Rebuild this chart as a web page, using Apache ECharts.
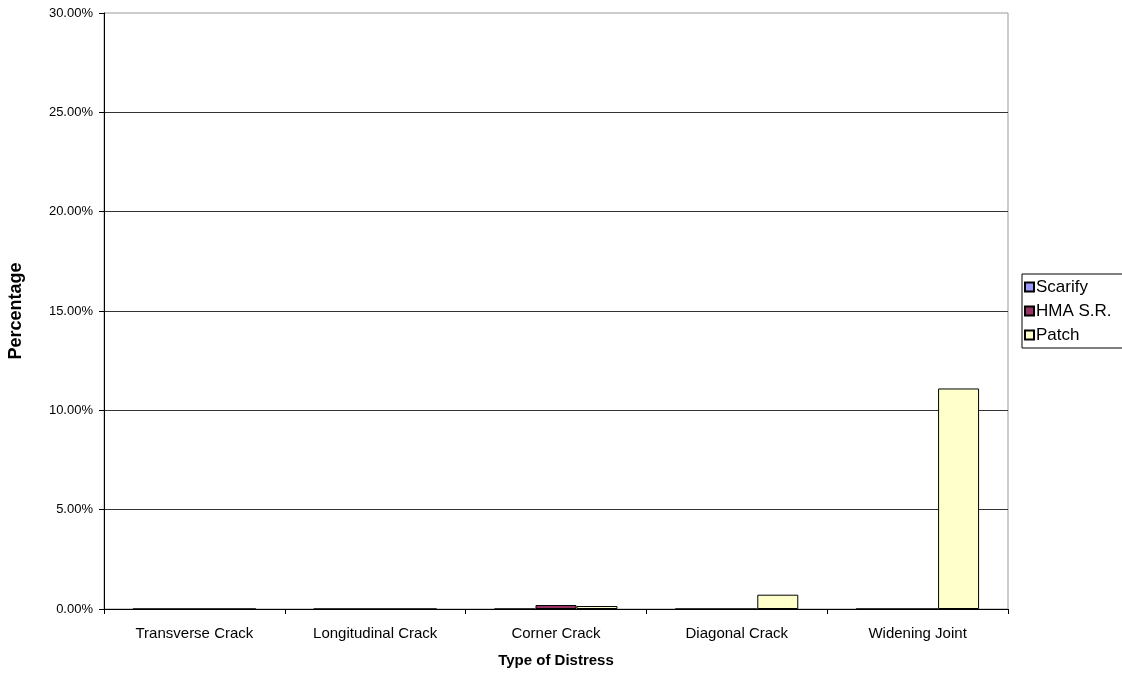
<!DOCTYPE html>
<html>
<head>
<meta charset="utf-8">
<script src="https://cdn.jsdelivr.net/npm/echarts@6/dist/echarts.min.js"></script>
<style>
html,body{margin:0;padding:0;background:#fff;}
#chart{width:1122px;height:677px;}
</style>
</head>
<body>
<div id="chart"></div>
<script>
const categories = ['Transverse Crack', 'Longitudinal Crack', 'Corner Crack', 'Diagonal Crack', 'Widening Joint'];
const scarify = [0, 0, 0, 0, 0];
const hmaSR = [0, 0, 0.20, 0, 0];
const patch = [0, 0, 0.15, 0.72, 11.1];
const yTicks = { min: 0, max: 30, interval: 5 };

const chart = echarts.init(document.getElementById('chart'));
const font = 'Liberation Sans, Arial, sans-serif';
const barStyle = (c) => ({ color: c, borderColor: '#000', borderWidth: 1 });
chart.setOption({
  animation: false,
  textStyle: { fontFamily: font },
  grid: { left: 104, top: 13, right: 114, bottom: 68, show: true, borderColor: '#999', borderWidth: 1, containLabel: false, outerBoundsMode: 'none' },
  legend: {
    orient: 'vertical',
    left: 1022, top: 274,
    padding: [3, 20, 3, 2],
    borderColor: '#000', borderWidth: 1,
    itemWidth: 9, itemHeight: 9, itemGap: 4,
    icon: 'rect',
    textStyle: { fontSize: 17, color: '#000', fontFamily: font, padding: [0, 0, 0, -3], lineHeight: 20 },
    data: ['Scarify', 'HMA S.R.', 'Patch']
  },
  xAxis: {
    type: 'category',
    data: categories,
    name: 'Type of Distress',
    nameLocation: 'middle',
    nameGap: 44,
    nameTextStyle: { fontWeight: 'bold', fontSize: 15, color: '#000' },
    axisLine: { lineStyle: { color: '#000' } },
    axisTick: { show: true, length: 5, lineStyle: { color: '#000' } },
    axisLabel: { fontSize: 15, color: '#000', margin: 17 }
  },
  yAxis: {
    type: 'value',
    min: yTicks.min, max: yTicks.max, interval: yTicks.interval,
    name: 'Percentage',
    nameLocation: 'middle',
    nameGap: 79,
    nameTextStyle: { fontWeight: 'bold', fontSize: 18, color: '#000' },
    axisLine: { show: true, lineStyle: { color: '#000' } },
    axisTick: { show: true, length: 5, lineStyle: { color: '#000' } },
    axisLabel: { fontSize: 13, color: '#000', margin: 11, formatter: v => v.toFixed(2) + '%' },
    splitLine: { show: true, showMaxLine: false, lineStyle: { color: '#333', width: 1 } }
  },
  series: [
    { name: 'Scarify', type: 'bar', data: scarify, barGap: '0%', barCategoryGap: '32%', itemStyle: barStyle('#9999FF') },
    { name: 'HMA S.R.', type: 'bar', data: hmaSR, itemStyle: barStyle('#993366') },
    { name: 'Patch', type: 'bar', data: patch, itemStyle: barStyle('#FFFFCC') }
  ]
});
</script>
</body>
</html>
